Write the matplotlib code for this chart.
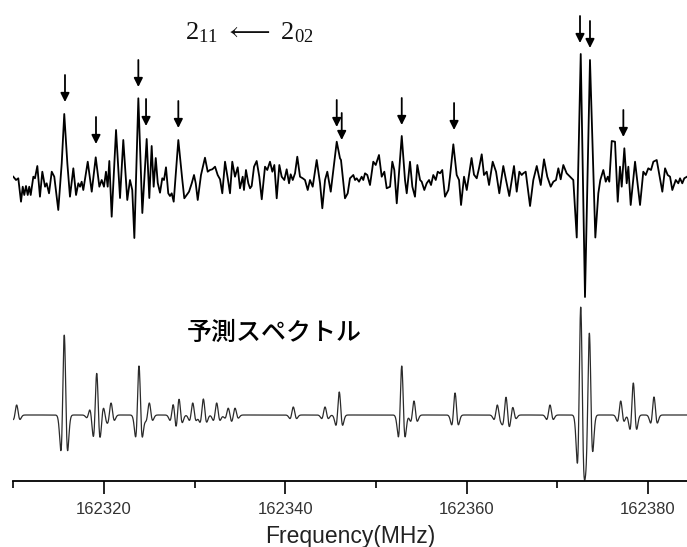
import matplotlib
matplotlib.use("Agg")
import matplotlib.pyplot as plt
import numpy as np

plt.rcParams['font.family'] = ['Liberation Sans', 'Noto Sans CJK JP', 'DejaVu Sans']
plt.rcParams['mathtext.fontset'] = 'custom'
plt.rcParams['mathtext.rm'] = 'Liberation Serif'
plt.rcParams['mathtext.it'] = 'Liberation Serif'
plt.rcParams['mathtext.default'] = 'rm'

obs_freq = [
    162310.00, 162310.30, 162310.55, 162310.85, 162311.04, 162311.21, 162311.40, 162311.59, 162311.76, 162311.92,
    162312.21, 162312.39, 162312.65, 162312.94, 162313.20, 162313.50, 162313.68, 162313.94, 162314.24, 162314.52,
    162314.96, 162315.34, 162315.62, 162315.96, 162316.25, 162316.62, 162316.92, 162317.17, 162317.36, 162317.54,
    162317.72, 162318.21, 162318.65, 162319.09, 162319.49, 162319.75, 162320.00, 162320.22, 162320.41, 162320.59,
    162320.85, 162321.33, 162321.77, 162322.13, 162322.57, 162322.87, 162323.12, 162323.35, 162323.79, 162324.23,
    162324.71, 162325.00, 162325.26, 162325.48, 162325.71, 162325.93, 162326.18, 162326.43, 162326.62, 162326.84,
    162327.09, 162327.28, 162327.47, 162327.69, 162328.20, 162328.64, 162328.86, 162329.12, 162329.38, 162329.68,
    162329.93, 162330.12, 162330.34, 162330.70, 162331.14, 162331.44, 162331.69, 162331.95, 162332.25, 162332.54,
    162332.80, 162333.05, 162333.35, 162333.65, 162333.90, 162334.15, 162334.45, 162334.75, 162335.00, 162335.30,
    162335.44, 162335.66, 162335.92, 162336.11, 162336.29, 162336.55, 162336.84, 162337.13, 162337.40, 162337.76,
    162338.01, 162338.31, 162338.57, 162338.79, 162339.05, 162339.34, 162339.60, 162339.89, 162340.15, 162340.41,
    162340.59, 162340.82, 162341.07, 162341.32, 162341.62, 162341.92, 162342.17, 162342.47, 162342.72, 162343.02,
    162343.46, 162343.83, 162344.08, 162344.38, 162344.63, 162345.01, 162345.67, 162346.03, 162346.14, 162346.58,
    162346.88, 162347.13, 162347.50, 162347.69, 162347.87, 162348.13, 162348.42, 162348.60, 162348.79, 162349.04,
    162349.34, 162349.70, 162349.97, 162350.33, 162350.63, 162350.92, 162351.18, 162351.55, 162351.80, 162352.02,
    162352.29, 162352.84, 162353.20, 162353.39, 162353.75, 162354.01, 162354.30, 162354.56, 162354.86, 162355.04,
    162355.33, 162355.59, 162355.85, 162356.07, 162356.32, 162356.59, 162356.81, 162357.06, 162357.31, 162357.61,
    162357.98, 162358.16, 162358.53, 162358.90, 162359.16, 162359.38, 162359.71, 162360.01,
    162360.54, 162360.81, 162361.11, 162361.36, 162361.66, 162361.91, 162362.21, 162362.47, 162362.87, 162363.24,
    162363.60, 162364.04, 162364.34, 162364.70, 162365.22, 162365.52, 162365.81, 162366.07, 162366.25, 162366.51,
    162366.99, 162367.35, 162367.73, 162368.17, 162368.53, 162368.89, 162369.27, 162369.56, 162369.85, 162370.11,
    162370.37, 162370.66, 162371.03, 162371.40, 162371.76, 162372.14, 162372.58, 162373.05, 162373.60, 162374.19,
    162374.52, 162374.74, 162375.07, 162375.34, 162375.56, 162375.73, 162376.00, 162376.36, 162376.66, 162376.91,
    162377.10, 162377.39, 162377.65, 162377.83, 162378.09, 162378.57, 162379.12, 162379.48, 162379.75, 162380.03,
    162380.33, 162380.59, 162380.96, 162381.25, 162381.58, 162381.88, 162382.17, 162382.43, 162382.68, 162383.06,
    162383.34, 162383.53, 162383.78, 162384.00, 162384.30]
obs_int = [
    0.33, 0.0, 0.17, -2.17, -0.67, -1.5, -0.6, -1.5, -0.67, -1.5,
    0.33, 0.17, 1.4, -1.67, 0.83, -0.67, -0.33, -1.33, 0.83, 0.33,
    -3.0, 1.67, 6.6, 1.67, -1.67, 1.17, -1.5, -0.33, -0.67, -0.17,
    -1.0, 1.83, -1.17, 2.27, -0.67, 0.0, -0.67, 0.83, -0.67, 1.9,
    -3.67, 5.0, -1.8, 4.0, -2.0, 0.0, -1.0, -5.8, 8.17, -3.3,
    4.1, -1.8, 3.4, -0.67, 2.2, -0.3, -1.27, 0.17, 0.0, 1.27,
    -1.33, -1.6, -1.33, -2.17, 4.0, 0.0, -1.83, -1.5, -1.17, -0.33,
    0.5, -0.33, -2.0, 0.5, 2.23, 0.83, 1.0, 1.07, 1.33, 0.5,
    0.07, -1.33, 1.83, 0.17, -1.33, 1.83, 0.33, 1.27, -0.83, 0.33,
    -1.0, 1.0, -0.33, -0.83, -0.6, 1.33, 1.9, 0.33, -1.93, 1.33,
    1.0, 1.83, 0.83, 1.5, -1.83, 1.5, 0.33, 0.0, 1.07, -0.33,
    0.57, 0.0, 0.67, 2.33, 0.33, 0.17, 0.0, -1.0, 0.0, -0.67,
    2.0, -0.33, -2.83, 0.0, 0.83, -1.17, 3.83, 2.17, 2.0, -1.83,
    -1.33, 0.17, 0.5, 0.0, 0.17, -0.17, 0.33, 0.0, 0.67, 0.5,
    -0.5, 1.83, 1.5, 2.5, 0.33, 0.83, -0.83, -0.67, 1.83, 1.0,
    -2.33, 4.4, 0.0, -1.33, 1.83, -0.67, -1.67, 1.5, 0.0, -0.17,
    -1.0, -0.33, 0.0, -0.5, 0.5, 0.0, 0.83, 0.67, 1.0, -1.67,
    -1.0, 0.33, 3.57, 0.5, 0.0, -2.5, 0.33, -1.0,
    2.2, 0.53, 0.17, 1.17, 2.57, 0.5, 0.83, -0.5, 1.83, 0.83,
    -1.33, 1.4, 0.0, -1.6, 1.4, -1.17, 0.83, 0.5, 0.67, 0.83,
    -2.6, 0.0, 1.4, -0.5, 2.07, 0.33, -0.67, -0.17, 0.0, 1.17,
    0.07, 1.5, 0.67, 0.33, 0.0, -5.75, 12.6, -11.7, 12.0, -5.75,
    -1.33, 0.0, 1.0, -0.17, 0.33, -0.17, 3.9, 3.83, -2.17, 1.33,
    -0.67, 3.17, -0.33, 1.33, -2.5, 1.83, -2.5, 0.83, 0.5, 1.17,
    1.0, 1.83, 2.0, 0.5, -1.17, 1.17, 0.5, 0.33, -1.0, 0.0,
    -0.33, 0.17, -0.33, 0.17, 0.33]

# predicted line list (MHz, relative intensity)
pred_freq = [162310.37, 162315.62, 162318.46, 162319.20, 162319.93, 162320.78, 162323.86, 162325.00,
             162327.65, 162328.27, 162329.79, 162330.96, 162332.43, 162333.71, 162334.45, 162340.88,
             162344.38, 162345.95, 162352.84, 162354.19, 162358.72, 162363.38, 162364.34, 162365.08,
             162369.19, 162372.58, 162373.53, 162376.99, 162378.38, 162380.66]
pred_int = [1.0, 8.0, 0.6, 4.2, 0.8, 1.2, 4.9, 1.2,
            1.2, 1.7, 1.2, 1.6, 1.2, 0.7, 0.7, 0.8,
            0.8, 2.3, 4.9, 1.4, 2.2, 1.0, 1.8, 0.8,
            1.0, 10.8, 8.2, 1.4, 3.2, 1.8]
line_sigma = 0.215

# marked lines: arrow position and arrow tip height (observed intensity units)
arrow_freq = [162315.70, 162319.12, 162323.79, 162324.64, 162328.20, 162345.67,
              162346.22, 162352.84, 162358.61, 162372.50, 162373.60, 162377.28]
arrow_tip = [7.8, 3.6, 9.3, 5.4, 5.2, 5.3, 4.0, 5.5, 5.0, 13.7, 13.2, 4.3]

tick_pos = [162320, 162340, 162360, 162380]
minor_pos = [162310, 162330, 162350, 162370]

obs_offset = 30.1
pred_offset = 6.6

fig = plt.figure(figsize=(6.87, 5.47), dpi=100)
ax = fig.add_axes([13.3 / 687, 66 / 547, 1 - 13.3 / 687, 481 / 547])

ax.plot(obs_freq, np.array(obs_int) + obs_offset, color='black', lw=1.3)

f = np.linspace(162310, 162384.3, 4000)
spec = np.zeros_like(f)
for f0, a in zip(pred_freq, pred_int):
    t = (f - f0) / line_sigma
    spec += a * (1 - t ** 2) * np.exp(-t ** 2 / 2)
ax.plot(f, spec + pred_offset, color='#2b2b2b', lw=0.9)

for fa, tip in zip(arrow_freq, arrow_tip):
    ax.annotate('', xy=(fa, tip + obs_offset), xytext=(fa, tip + obs_offset + 2.7),
                arrowprops=dict(arrowstyle='-|>', color='black', lw=1.3,
                                mutation_scale=13, shrinkA=0, shrinkB=0))

ax.text(162336.0, 44.8, r'$2_{11}\ \longleftarrow\ 2_{02}$',
        ha='center', va='center', fontsize=19, color='#111111')
ax.text(162329.1, 14.8, '予測スペクトル', ha='left', va='center', fontsize=18,
        family=['Noto Sans CJK JP'], weight='medium')

ax.set_xlim(162310, 162384.3)
ax.set_ylim(0, 48.1)
for s in ['left', 'right', 'top']:
    ax.spines[s].set_visible(False)
ax.spines['bottom'].set_linewidth(1.3)
ax.set_yticks([])
ax.set_xticks(tick_pos)
ax.set_xticklabels([str(v) for v in tick_pos])
ax.set_xticks(minor_pos, minor=True)
ax.tick_params(axis='x', which='major', length=9, width=1.2, labelsize=12,
               labelcolor='#333333', pad=6)
ax.tick_params(axis='x', which='minor', length=5, width=1.2)
ax.set_xlabel('Frequency(MHz)', fontsize=16.5, color='#222222', labelpad=6)

fig.savefig('out.png', dpi=100)
